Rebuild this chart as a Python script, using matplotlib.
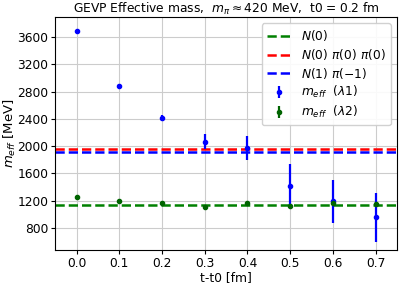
import numpy as np
import matplotlib
matplotlib.use("Agg")
from matplotlib import pyplot as plt

# time slices t - t0 [fm]
t_vals = [0.0, 0.1, 0.2, 0.3, 0.4, 0.5, 0.6, 0.7]

# effective mass, first eigenvalue
meff_l1 = [3690, 2885, 2415, 2066, 1970, 1420, 1190, 955]
err_l1 = [15, 30, 45, 105, 175, 315, 318, 355]

# effective mass, second eigenvalue
meff_l2 = [1250, 1198, 1160, 1112, 1168, 1124, 1160, 1150]
err_l2 = [10, 10, 10, 18, 12, 15, 20, 25]

# non-interacting levels
level_n0 = 1140
level_n0_pi0_pi0 = 1963
level_n1_pim1 = 1915

fs = 8.8

fig, ax = plt.subplots(figsize=(4.03, 2.87), dpi=100)

ax.axhline(level_n0, color="green", ls="--", lw=1.8, label=r"$N(0)$")
ax.axhline(level_n0_pi0_pi0, color="red", ls="--", lw=1.8, label=r"$N(0)\ \pi(0)\ \pi(0)$")
ax.axhline(level_n1_pim1, color="blue", ls="--", lw=1.8, label=r"$N(1)\ \pi(-1)$")

ax.errorbar(t_vals, meff_l1, yerr=err_l1, fmt="o", color="blue", ms=3,
            elinewidth=1.6, capsize=0, label=r"$m_{eff}$  $(\lambda1)$")
ax.errorbar(t_vals, meff_l2, yerr=err_l2, fmt="o", color="darkgreen", ms=3,
            elinewidth=1.6, capsize=0, label=r"$m_{eff}$  $(\lambda2)$")

ax.set_xlim(-0.05, 0.75)
ax.set_ylim(480, 3890)
ax.set_yticks([800, 1200, 1600, 2000, 2400, 2800, 3200, 3600])
ax.set_xticks(t_vals)
ax.tick_params(labelsize=fs, length=3, pad=2)
ax.grid(True, color="#cccccc", lw=0.8)

ax.set_xlabel("t-t0 [fm]", fontsize=fs, labelpad=1)
ax.set_ylabel(r"$m_{eff}$ [MeV]", fontsize=9.5)
ax.yaxis.set_label_coords(-0.108, 0.5)
ax.set_title(r"GEVP Effective mass,  $m_{\pi}\approx$420 MeV,  t0 = 0.2 fm", fontsize=fs, pad=3)

ax.legend(loc="upper right", fontsize=fs, handlelength=2.0, labelspacing=0.3,
          borderpad=0.4, framealpha=0.9)

fig.subplots_adjust(left=0.137, right=0.985, top=0.94, bottom=0.13)
fig.savefig("out.png", dpi=100)
